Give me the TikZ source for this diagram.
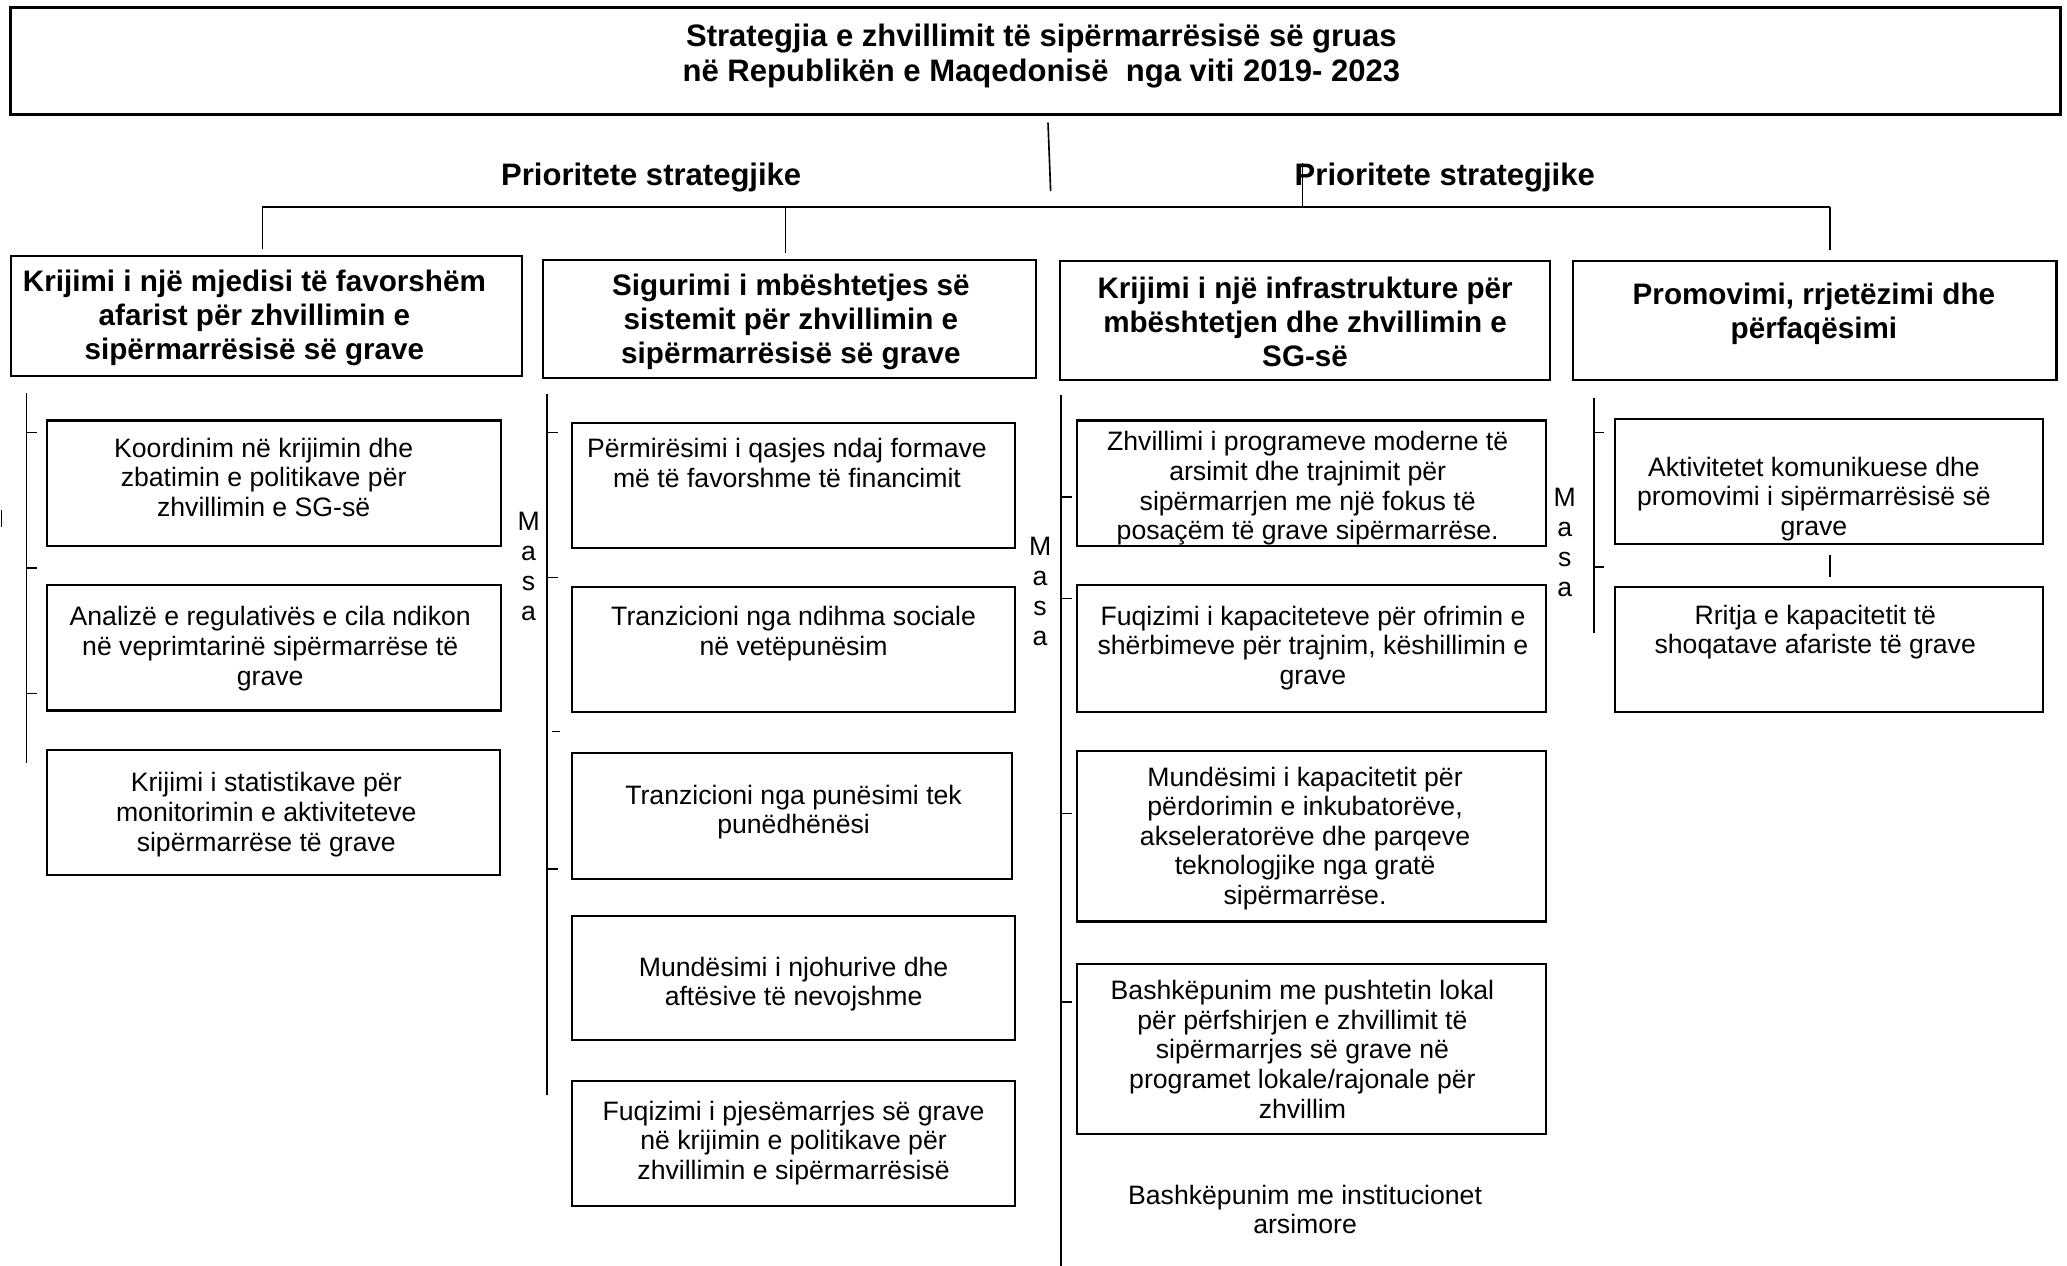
\documentclass[tikz,border=0pt]{standalone}
\usepackage{fontspec}
\setmainfont{Liberation Sans}
\usetikzlibrary{fit}
\begin{document}
\begin{tikzpicture}[x=0.02cm,y=-0.02cm,
  box/.style={draw, line width=0.9pt, inner sep=0pt},
  ttl/.style={font=\fontsize{13.4}{15.3}\selectfont\bfseries, align=center, inner sep=0pt},
  hdr/.style={font=\fontsize{12.8}{14.7}\selectfont\bfseries, align=center, inner sep=0pt},
  body/.style={font=\fontsize{11.5}{12.8}\selectfont, align=center, inner sep=0pt},
  masa/.style={font=\fontsize{11.5}{13}\selectfont, align=center, inner sep=0pt},
  ln/.style={line width=0.7pt},
]
\useasboundingbox (0,0) rectangle (1568,960);

% title
\node[box, line width=1.3pt, fit={(8,6) (1563,87)}] (title) {};
\node[ttl] (titletxt) at (790,42.5) {Strategjia e zhvillimit të sipërmarrësisë së gruas\\në Republikën e Maqedonisë\ \ nga viti 2019- 2023};

% priority labels
\node[ttl] (pr1) at (494,135) {Prioritete strategjike};
\node[ttl] (pr2) at (1096,135) {Prioritete strategjike};

% connector coordinates
\coordinate (t0) at (795,93);
\coordinate (t1) at (797,145);
\coordinate (bl) at (199,157);
\coordinate (br) at (1388,157);
\coordinate (b2) at (596,157);
\coordinate (b3) at (988,157);
\coordinate (b3u) at (988,124);
\coordinate (d1) at (199,189);
\coordinate (d2) at (596,192);
\coordinate (d4) at (1388,190);

\draw[ln] (t0) -- (t1);
\draw[line width=1pt] (bl) -- (br);
\draw[ln] (bl) -- (d1);
\draw[ln] (b2) -- (d2);
\draw[ln] (br) -- (d4);
\draw[ln] (b3) -- (b3u);

% header boxes
\node[box, fit={(8,194) (396,285)}] (h1) {};
\node[box, fit={(412,197) (786,287)}] (h2) {};
\node[box, fit={(804,198) (1176,288)}] (h3) {};
\node[box, fit={(1193,198) (1560,288)}] (h4) {};
\node[hdr] (h1t) at (193,241) {Krijimi i një mjedisi të favorshëm\\afarist për zhvillimin e\\sipërmarrësisë së grave};
\node[hdr] (h2t) at (600,244) {Sigurimi i mbështetjes së\\sistemit për zhvillimin e\\sipërmarrësisë së grave};
\node[hdr] (h3t) at (990,244) {Krijimi i një infrastrukture për\\mbështetjen dhe zhvillimin e\\SG-së};
\node[hdr] (h4t) at (1376,238) {Promovimi, rrjetëzimi dhe\\përfaqësimi};

% column 1 bracket
\coordinate (m1a) at (20,298); \coordinate (m1b) at (20,579);
\draw[ln] (m1a) -- (m1b);
\foreach \yy in {328,431,526} {\draw[ln] (20,\yy) -- (28,\yy);}
\coordinate (m1x) at (1,387); \coordinate (m1y) at (1,400);
\draw[ln] (m1x) -- (m1y);

% column 2 bracket
\coordinate (m2a) at (415,299); \coordinate (m2b) at (415,831);
\draw[ln] (m2a) -- (m2b);
\foreach \yy in {328,438,659} {\draw[ln] (415,\yy) -- (423,\yy);}
\draw[ln] (419,555) -- (425,555);
\node[masa] (masa2) at (401,429.5) {M\\a\\s\\a};

% column 3 bracket
\coordinate (m3a) at (805,300); \coordinate (m3b) at (805,960);
\draw[ln] (m3a) -- (m3b);
\foreach \yy in {377,454,617,760} {\draw[ln] (805,\yy) -- (813,\yy);}
\node[masa] (masa3) at (789,448.5) {M\\a\\s\\a};

% column 4 bracket
\coordinate (m4a) at (1209,302); \coordinate (m4b) at (1209,480);
\draw[ln] (m4a) -- (m4b);
\foreach \yy in {328,430} {\draw[ln] (1209,\yy) -- (1217,\yy);}
\node[masa] (masa4) at (1187,411.5) {M\\a\\s\\a};
\coordinate (m4x) at (1388,421); \coordinate (m4y) at (1388,438);
\draw[ln] (m4x) -- (m4y);

% column 1 boxes
\node[box, fit={(36,319) (380,414)}] (b11) {};
\node[body] (b11t) at (200,362) {Koordinim në krijimin dhe\\zbatimin e politikave për\\zhvillimin e SG-së};
\node[box, fit={(36,444) (380,539)}] (b12) {};
\node[body] (b12t) at (205,492) {Analizë e regulativës e cila ndikon\\në veprimtarinë sipërmarrëse të\\grave};
\node[box, fit={(36,569) (379,664)}] (b13) {};
\node[body] (b13t) at (202,618) {Krijimi i statistikave për\\monitorimin e aktiviteteve\\sipërmarrëse të grave};

% column 2 boxes
\node[box, fit={(434,321) (770,416)}] (b21) {};
\node[body] (b21t) at (597,351) {Përmirësimi i qasjes ndaj formave\\më të favorshme të financimit};
\node[box, fit={(434,445) (770,540)}] (b22) {};
\node[body] (b22t) at (602,480.5) {Tranzicioni nga ndihma sociale\\në vetëpunësim};
\node[box, fit={(434,571) (768,667)}] (b23) {};
\node[body] (b23t) at (602,616) {Tranzicioni nga punësimi tek\\punëdhënësi};
\node[box, fit={(434,695) (770,789)}] (b24) {};
\node[body] (b24t) at (602,746.5) {Mundësimi i njohurive dhe\\aftësive të nevojshme};
\node[box, fit={(434,820) (770,915)}] (b25) {};
\node[body] (b25t) at (602,867) {Fuqizimi i pjesëmarrjes së grave\\në krijimin e politikave për\\zhvillimin e sipërmarrësisë};

% column 3 boxes
\node[box, fit={(817,319) (1173,414)}] (b31) {};
\node[body] (b31t) at (992,370.5) {Zhvillimi i programeve moderne të\\arsimit dhe trajnimit për\\sipërmarrjen me një fokus të\\posaçëm të grave sipërmarrëse.};
\node[box, fit={(817,444) (1173,540)}] (b32) {};
\node[body] (b32t) at (996,491.5) {Fuqizimi i kapaciteteve për ofrimin e\\shërbimeve për trajnim, këshillimin e\\grave};
\node[box, fit={(817,570) (1173,699)}] (b33) {};
\node[body] (b33t) at (990,636) {Mundësimi i kapacitetit për\\përdorimin e inkubatorëve,\\akseleratorëve dhe parqeve\\teknologjike nga gratë\\sipërmarrëse.};
\node[box, fit={(817,731) (1173,860)}] (b34) {};
\node[body] (b34t) at (988,796) {Bashkëpunim me pushtetin lokal\\për përfshirjen e zhvillimit të\\sipërmarrjes së grave në\\programet lokale/rajonale për\\zhvillim};
\node[body] (b35t) at (990,917.5) {Bashkëpunim me institucionet\\arsimore};

% column 4 boxes
\node[box, fit={(1225,318) (1550,413)}] (b41) {};
\node[body] (b41t) at (1376,378.5) {Aktivitetet komunikuese dhe\\promovimi i sipërmarrësisë së\\grave};
\node[box, fit={(1225,445) (1550,540)}] (b42) {};
\node[body] (b42t) at (1377,479.5) {Rritja e kapacitetit të\\shoqatave afariste të grave};
\end{tikzpicture}
\end{document}
